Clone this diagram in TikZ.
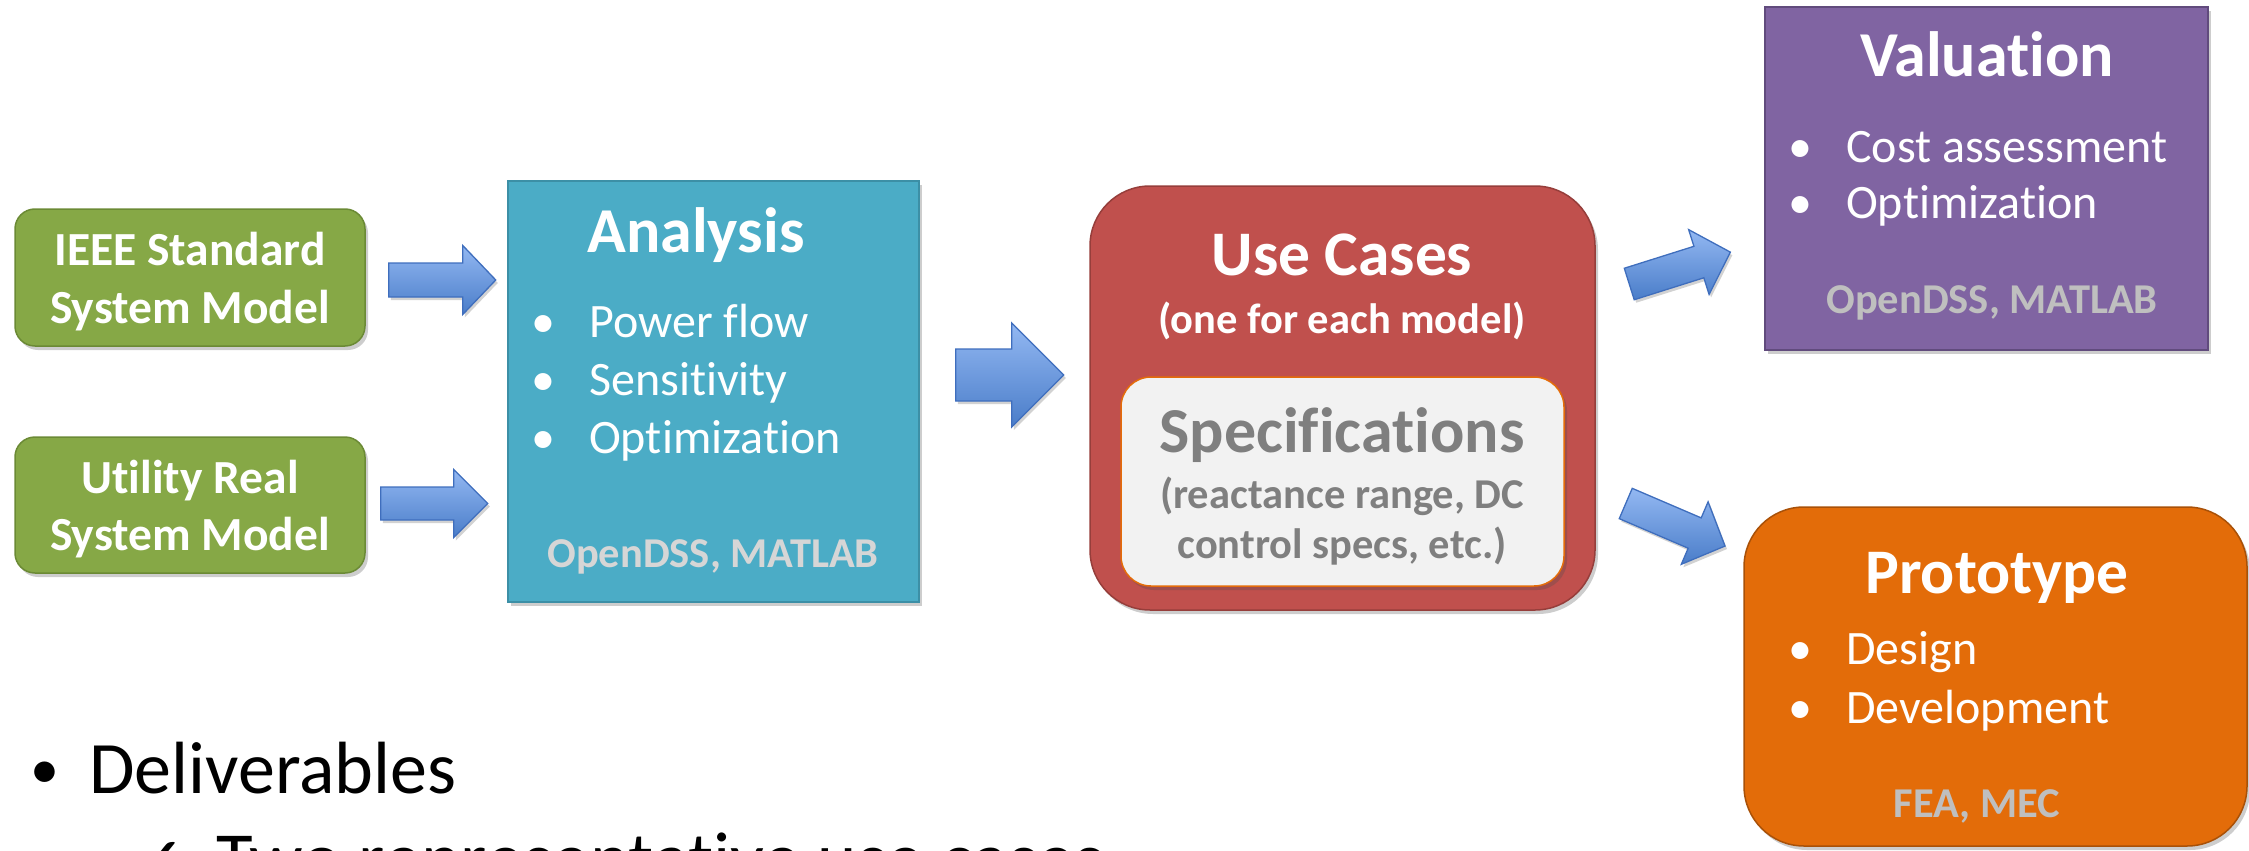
\documentclass[tikz,border=0pt]{standalone}
\usepackage{fontspec}
\setmainfont{Carlito}[Ligatures=NoCommon,RawFeature={-liga;-clig;-dlig;-calt}]
\newfontfamily\symfont{DejaVu Sans}
\usetikzlibrary{shadows,calc}

\definecolor{grnfill}{HTML}{86A846}
\definecolor{grnline}{HTML}{6B8A35}
\definecolor{tealfill}{HTML}{4BACC6}
\definecolor{tealline}{HTML}{3C8FA6}
\definecolor{redfill}{HTML}{C0504D}
\definecolor{redline}{HTML}{963E3B}
\definecolor{purfill}{HTML}{8064A2}
\definecolor{purline}{HTML}{614B7D}
\definecolor{orgfill}{HTML}{E36C09}
\definecolor{orgline}{HTML}{A95108}
\definecolor{specfill}{HTML}{F2F2F2}
\definecolor{specline}{HTML}{E46C0A}
\definecolor{specgray}{HTML}{7F7F7F}
\definecolor{toolgray}{HTML}{BFBFBF}
\definecolor{toollight}{HTML}{D6D6D6}
\definecolor{arrtop}{HTML}{93B8F2}
\definecolor{arrbot}{HTML}{4A7DC9}
\definecolor{arrline}{HTML}{3F6EBD}

% block arrow: tail midpoint, angle, length, head length, shaft half width, head half width
\newcommand\blockarrow[6]{%
  \begin{scope}[shift={#1},rotate=#2]
    \path[barrow] (0,-#5) -- (#3-#4,-#5) -- (#3-#4,-#6) -- (#3,0)
      -- (#3-#4,#6) -- (#3-#4,#5) -- (0,#5) -- cycle;
  \end{scope}}

\begin{document}
\begin{tikzpicture}[x=1pt,y=-1pt,
  boxshadow/.style={drop shadow={shadow xshift=3pt,shadow yshift=-4pt,opacity=.28,fill=black!70}},
  box/.style={draw,line width=1.5pt,inner sep=0pt,boxshadow},
  greenbox/.style={box,fill=grnfill,draw=grnline,rounded corners=20pt},
  tealbox/.style={box,fill=tealfill,draw=tealline},
  redbox/.style={box,fill=redfill,draw=redline,rounded corners=60pt},
  specbox/.style={box,fill=specfill,draw=specline,rounded corners=30pt},
  purbox/.style={box,fill=purfill,draw=purline},
  orgbox/.style={box,fill=orgfill,draw=orgline,rounded corners=60pt},
  barrow/.style={top color=arrtop,bottom color=arrbot,draw=arrline,line width=1.3pt,
    drop shadow={shadow xshift=2pt,shadow yshift=-3pt,opacity=.25,fill=black!70}},
  txt/.style={inner sep=0pt,text=white},
  greentxt/.style={txt,anchor=base,font=\fontsize{47.5}{56}\bfseries},
  title/.style={txt,anchor=base,font=\fontsize{64}{76}\bfseries},
  item/.style={txt,anchor=base west,font=\fontsize{48}{56}\selectfont},
  tool/.style={txt,anchor=base,font=\fontsize{42.5}{50}\bfseries},
  subtxt/.style={txt,anchor=base,font=\fontsize{42.5}{50}\bfseries},
  body/.style={inner sep=0pt,text=black,anchor=base west,font=\fontsize{74}{88}\selectfont}
]
\path[use as bounding box] (0,0) rectangle (2249,851);
\clip (0,0) rectangle (2249,851);

% input models
\node[greenbox,minimum width=350pt,minimum height=137pt] (g1) at (190,277.5) {};
\node[greentxt] (g1a) at (190,265) {IEEE Standard};
\node[greentxt] (g1b) at (190,323) {System Model};
\node[greenbox,minimum width=350pt,minimum height=136pt] (g2) at (190,505) {};
\node[greentxt] (g2a) at (190,493) {Utility Real};
\node[greentxt] (g2b) at (190,550) {System Model};

% analysis
\node[tealbox,minimum width=411pt,minimum height=421pt] (ana) at (713.5,391.5) {};
\node[title] (anat) at (696,252) {Analysis};
\node[item] (anab1) at (531,337) {•};
\node[item] (anai1) at (589,337) {Power flow};
\node[item] (anab2) at (531,395) {•};
\node[item] (anai2) at (589,395) {Sensitivity};
\node[item] (anab3) at (531,453) {•};
\node[item] (anai3) at (589,453) {Optimization};
\node[tool,text=toollight] (anatool) at (713,567) {OpenDSS, MATLAB};

% use cases with specifications
\node[redbox,minimum width=505pt,minimum height=424pt] (uc) at (1342.5,398) {};
\node[title,font=\fontsize{63.5}{76}\bfseries] (uct) at (1342,275) {Use Cases};
\node[subtxt] (ucs) at (1342,333) {(one for each model)};
\node[specbox,minimum width=443pt,minimum height=209pt] (spec) at (1342.5,481.5) {};
\node[title,text=specgray,font=\fontsize{64}{76}\bfseries] (spect) at (1342,452) {Specifications};
\node[subtxt,text=specgray] (spec1) at (1342,508) {(reactance range, DC};
\node[subtxt,text=specgray] (spec2) at (1342,558) {control specs, etc.)};

% valuation
\node[purbox,minimum width=443pt,minimum height=343pt] (val) at (1986.5,178.5) {};
\node[title] (valt) at (1987,77) {Valuation};
\node[item] (valb1) at (1788,162) {•};
\node[item] (vali1) at (1846,162) {Cost assessment};
\node[item] (valb2) at (1788,218) {•};
\node[item] (vali2) at (1846,218) {Optimization};
\node[tool,text=toolgray] (valtool) at (1992,313) {OpenDSS, MATLAB};

% prototype
\node[orgbox,minimum width=503pt,minimum height=339pt] (pro) at (1995.5,676.5) {};
\node[title,font=\fontsize{63.5}{76}\bfseries] (prot) at (1997,593) {Prototype};
\node[item] (prob1) at (1788,664) {•};
\node[item] (proi1) at (1846,664) {Design};
\node[item] (prob2) at (1788,723) {•};
\node[item] (proi2) at (1846,723) {Development};
\node[tool,text=toolgray] (protool) at (1977,817) {FEA, MEC};

% flow arrows, tails placed from the boxes they leave
\coordinate (a1) at ($(g1.east)+(23,2.5)$);
\coordinate (a2) at ($(g2.east)+(15,-1.5)$);
\coordinate (a3) at ($(ana.east)+(36,-16.5)$);
\coordinate (a4) at ($(uc.east)+(33.5,-114)$);
\coordinate (a5) at ($(uc.east)+(30,105.5)$);
\blockarrow{(a1)}{0}{107}{33}{17}{34.5}
\blockarrow{(a2)}{0}{107}{34}{16.5}{34}
\blockarrow{(a3)}{0}{108}{52}{26}{52}
\blockarrow{(a4)}{17.5}{106}{33}{16.5}{34}
\blockarrow{(a5)}{-23.2}{108}{33}{16.5}{34}

% deliverables
\node[body,font=\fontsize{58}{70}\selectfont] (delb) at (30,788) {•};
\node[body] (delt) at (89,793) {Deliverables};
\node[body,font=\fontsize{70}{80}\symfont] (chk) at (128,886) {✓};
\node[body,font=\fontsize{75}{88}\selectfont] (two) at (216,884) {Two representative use cases};
\end{tikzpicture}
\end{document}
